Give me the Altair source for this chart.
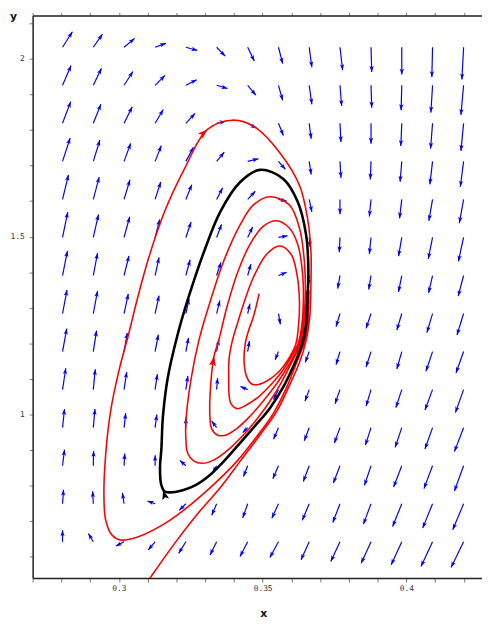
import math
import altair as alt
import pandas as pd

# ---------------- axes ----------------
X_MIN, X_MAX = 0.27, 0.4263
Y_MIN, Y_MAX = 0.5402, 2.1219
PLOT_W, PLOT_H = 456, 571
X_TICKS = [round(0.27 + 0.01 * i, 2) for i in range(16)]
Y_TICKS = [round(0.6 + 0.1 * i, 1) for i in range(16)]

# ---------------- direction field (grid of arrow tails) ----------------
FIELD_X = [0.2804, 0.2911, 0.3018, 0.3126, 0.3233, 0.3340, 0.3448,
           0.3555, 0.3662, 0.3769, 0.3877, 0.3984, 0.4091, 0.4199]
FIELD_Y = [2.0324, 1.9255, 1.8186, 1.7116, 1.6047, 1.4978, 1.3908,
           1.2839, 1.1770, 1.0700, 0.9631, 0.8562, 0.7492, 0.6423]
# arrow components as drawn (horizontal, vertical-up), rows top->bottom
FIELD_U = [
    [10, 9.3, 10.7, 11, 11.7, 8.7, 6.7, 4.3, 2.7, 2.7, 0.7, 0, -0.7, -1.7],
    [8.7, 8.3, 9, 10, 11, 11, 8.3, 4.3, 2.7, 1.7, 0.7, -0.7, -1.7, -2.7],
    [8.3, 7.7, 8.3, 8.3, 9.3, 9, 9, 5, 2, 1, 0, -1, -2, -2.7],
    [7.7, 6.7, 6.7, 6.3, 7.7, 7.7, 11, 7, 2, 1, -0.7, -1.7, -2.7, -3.3],
    [6, 6, 6, 5.7, 6, 6, 7.7, 8.3, 2.7, 0, -1.7, -2.3, -3.7, -4.3],
    [5.3, 5.3, 5.7, 4.7, 5.3, 5, 5, 9.3, 1, -0.7, -1.7, -3.3, -4.3, -5.3],
    [5, 4.3, 5, 4, 4.3, 4.3, 3.3, 8.3, -1, -2.3, -2.3, -3.3, -4, -5.5],
    [4.5, 4.3, 4.3, 4, 3.3, 3.3, 2.3, 2, -2.7, -4, -5, -5, -5.7, -6.7],
    [4.3, 3.3, 3.3, 3.3, 2.7, 2.3, 1.7, -3.3, -4, -4, -5, -5, -6.7, -7.7],
    [3.3, 2, 2.7, 2.3, 2, 1, -7.3, -5, -4.3, -5, -5, -6, -7.7, -8.3],
    [2, 1.7, 1.7, 1.7, 0, -5, -5, -5, -5, -5.7, -5.7, -6.7, -7.7, -9.3],
    [2, 0.3, 0.7, 0, -6, -4, -4.3, -5.7, -6, -6.7, -6.7, -8.3, -8.7, -9.3],
    [1, -0.7, -1.7, -7.7, -6.7, -5, -5, -6.7, -7, -7.3, -7.7, -9.3, -10, -11],
    [0, -5, -8.3, -7, -7.3, -6.7, -7.7, -8.7, -8.3, -9.3, -10, -10.7, -11.7, -12.7],
]
FIELD_V = [
    [15.7, 13.3, 9, 4, -3.3, -9, -14, -16.7, -20.3, -23.3, -25, -27.7, -30.3, -32.7],
    [20, 17.3, 14, 10, 5.7, -3.3, -10, -15.3, -19.3, -21, -22.7, -25.3, -27.7, -30],
    [22, 19.3, 16.7, 14, 10, 2, -5, -12.3, -15.7, -19, -20.7, -23, -25.7, -28],
    [23.7, 21.7, 18.3, 16, 14.3, 9.3, 2.7, -8, -13.3, -16.7, -18.3, -20.7, -23.3, -25.7],
    [25, 22.7, 20, 17.7, 15, 11.7, 8.3, -1.7, -12.7, -15, -17.3, -19.3, -21.7, -24],
    [25.7, 23.3, 21, 18.3, 15.7, 13.3, 10.7, 1.7, -10, -15, -16.7, -19, -21.7, -24.3],
    [25, 22.7, 20, 18.3, 16, 13.3, 11.7, 3.3, -10, -13.3, -14.3, -16.7, -17.7, -21],
    [24, 23, 20, 18.3, 15, 13.3, 10, -11, -11.7, -13.3, -15, -16.7, -19.3, -21.7],
    [23.3, 21.3, 19, 17.3, 14, 12.3, 10.7, -8.3, -11, -13.3, -15.7, -17.7, -20, -21.7],
    [21.7, 20.7, 18, 15.7, 14, 11.7, 3.3, -10, -11.7, -14.3, -16.7, -18.3, -20.7, -23.3],
    [19, 19, 14.7, 13.3, 10, 6.7, -5, -11.7, -13.3, -15.7, -17.7, -20, -21.7, -24.3],
    [16.3, 15, 12.3, 10.7, 5.3, -6.7, -11, -13.3, -16, -17.7, -20, -21.7, -23.3, -25.7],
    [14.3, 12.7, 11, 2.7, -6.7, -11.7, -14.3, -14.7, -16.7, -19, -20.7, -23, -24.7, -26.3],
    [11.7, 8.3, -4.3, -8.3, -11.7, -13.3, -15, -16, -18.3, -20, -21.7, -23.3, -25, -26],
]

# ---------------- trajectories ----------------
T1_X = [0.3661, 0.3659, 0.3654, 0.3642, 0.3620, 0.3584, 0.3538, 0.3479, 0.3411, 0.3331,
        0.3239, 0.3159, 0.3068, 0.3005, 0.2976, 0.2954, 0.2948, 0.2954, 0.2971, 0.2999,
        0.3035, 0.3063, 0.3104, 0.3159, 0.3228, 0.3308, 0.3394, 0.3468, 0.3559, 0.3628,
        0.3656, 0.3668, 0.3668, 0.3664, 0.3652, 0.3628, 0.3593, 0.3548, 0.3491, 0.3422,
        0.3353, 0.3274, 0.3194, 0.3113, 0.3085]
T1_Y = [1.3490, 1.2936, 1.2382, 1.1967, 1.1496, 1.0776, 1.0042, 0.9377, 0.8690, 0.8042,
        0.7396, 0.6933, 0.6565, 0.6474, 0.6612, 0.7036, 0.7765, 0.8873, 1.0083, 1.1191,
        1.2299, 1.3213, 1.4413, 1.5706, 1.6906, 1.8014, 1.8274, 1.8108, 1.7368, 1.6446,
        1.5521, 1.4598, 1.3676, 1.2751, 1.2105, 1.1460, 1.0812, 1.0075, 0.9427, 0.8690,
        0.7950, 0.7211, 0.6379, 0.5457, 0.5125]

T2_X = [0.3652, 0.3649, 0.3644, 0.3632, 0.3603, 0.3568, 0.3524, 0.3479, 0.3445, 0.3387,
        0.3331, 0.3291, 0.3260, 0.3239, 0.3233, 0.3233, 0.3251, 0.3279, 0.3319, 0.3365,
        0.3422, 0.3468, 0.3525, 0.3593, 0.3628, 0.3645, 0.3648, 0.3640, 0.3627, 0.3610,
        0.3586, 0.3548, 0.3503, 0.3455, 0.3411, 0.3370, 0.3342, 0.3322, 0.3317, 0.3317,
        0.3331, 0.3348, 0.3376, 0.3411, 0.3456, 0.3502, 0.3548, 0.3593, 0.3622, 0.3639,
        0.3641, 0.3634, 0.3622, 0.3599, 0.3568, 0.3531, 0.3486, 0.3445, 0.3411, 0.3390,
        0.3383, 0.3382, 0.3383, 0.3394, 0.3414, 0.3438, 0.3468, 0.3514, 0.3559, 0.3599,
        0.3619, 0.3628, 0.3625, 0.3615, 0.3589, 0.3558, 0.3520, 0.3486, 0.3462, 0.3445,
        0.3436, 0.3439, 0.3452, 0.3468, 0.3488]
T2_Y = [1.3490, 1.2936, 1.2521, 1.1967, 1.1496, 1.0942, 1.0360, 0.9862, 0.9529, 0.9058,
        0.8726, 0.8629, 0.8698, 0.8920, 0.9335, 0.9798, 1.0997, 1.2105, 1.3213, 1.4321,
        1.5338, 1.5892, 1.6122, 1.5892, 1.5244, 1.4321, 1.3213, 1.2521, 1.1967, 1.1662,
        1.1330, 1.0859, 1.0388, 0.9945, 0.9612, 0.9418, 0.9427, 0.9612, 0.9889, 1.0526,
        1.1643, 1.2105, 1.3028, 1.3953, 1.4784, 1.5291, 1.5449, 1.5244, 1.4784, 1.3953,
        1.3028, 1.2382, 1.1967, 1.1607, 1.1219, 1.0859, 1.0499, 1.0277, 1.0166, 1.0305,
        1.0582, 1.0997, 1.1551, 1.2050, 1.2604, 1.3213, 1.3859, 1.4507, 1.4737, 1.4507,
        1.3953, 1.3213, 1.2521, 1.1967, 1.1551, 1.1219, 1.0970, 1.0845, 1.0859, 1.1053,
        1.1413, 1.1967, 1.2382, 1.2751, 1.3399]

LC_X = [0.3157, 0.3147, 0.3143, 0.3148, 0.3153, 0.3170, 0.3204, 0.3239, 0.3297, 0.3353,
        0.3422, 0.3491, 0.3571, 0.3622, 0.3651, 0.3659, 0.3656, 0.3651, 0.3637, 0.3610,
        0.3572, 0.3524, 0.3472, 0.3421, 0.3363, 0.3318, 0.3267, 0.3219, 0.3178, 0.3157]
LC_Y = [0.7839, 0.8033, 0.8504, 0.9058, 0.9925, 1.1033, 1.2235, 1.3213, 1.4598, 1.5706,
        1.6537, 1.6878, 1.6629, 1.5983, 1.5061, 1.4136, 1.3213, 1.2521, 1.1967, 1.1413,
        1.0776, 1.0166, 0.9668, 0.9197, 0.8670, 0.8310, 0.8019, 0.7867, 0.7812, 0.7839]

# initial points of the trajectories (direction of travel, degrees clockwise from up)
START_X = [0.3308, 0.3331, 0.3154]
START_Y = [1.8014, 1.1643, 0.7881]
START_DIR = [48, 9, 345]
START_KIND = ["red", "red", "black"]

# ---------------- build tables ----------------
kx = (X_MAX - X_MIN) / PLOT_W
ky = (Y_MAX - Y_MIN) / PLOT_H
rows = []
for r, yv in enumerate(FIELD_Y):
    for c, xv in enumerate(FIELD_X):
        u, v = FIELD_U[r][c], FIELD_V[r][c]
        rows.append({
            "x": xv, "y": yv,
            "x2": xv + u * kx, "y2": yv + v * ky,
            "angle": math.degrees(math.atan2(u, v)) % 360,
        })
field = pd.DataFrame(rows)

curves = []
for name, xs_, ys_ in [("T1", T1_X, T1_Y), ("T2", T2_X, T2_Y)]:
    for i, (a, b) in enumerate(zip(xs_, ys_)):
        curves.append({"curve": name, "i": i, "x": a, "y": b})
red = pd.DataFrame(curves)
cycle = pd.DataFrame({"i": list(range(len(LC_X))), "x": LC_X, "y": LC_Y})
starts = pd.DataFrame({"x": START_X, "y": START_Y, "angle": START_DIR, "kind": START_KIND})

xs = alt.Scale(domain=[X_MIN, X_MAX], nice=False, zero=False)
ys = alt.Scale(domain=[Y_MIN, Y_MAX], nice=False, zero=False)

HEAD = "M0,0L0.36,1L0,0.78L-0.36,1Z"
FRAME = "#222"

x_bottom = alt.Axis(
    orient="bottom", values=X_TICKS, format=".2~f",
    labelExpr="indexof(['0.3','0.35','0.4'], datum.label) >= 0 ? datum.label : ''",
    grid=False, domainColor=FRAME, domainWidth=1.5, tickColor="#777", tickSize=4,
    tickWidth=1, labelFont="DejaVu Sans Mono", labelFontSize=8, labelColor="#333",
    labelPadding=3, labelOverlap=False, labelFlush=False,
    title="x", titleFont="DejaVu Sans", titleFontWeight="bold", titleFontSize=11,
    titleColor="#111", titleX=234, titleY=36, titleAlign="center", titleBaseline="middle",
)
x_top = alt.Axis(
    orient="top", values=X_TICKS, labels=False, grid=False, domainColor=FRAME,
    domainWidth=1.5, tickColor="#777", tickSize=3, tickWidth=1, title="",
)
y_left = alt.Axis(
    orient="left", values=Y_TICKS, format=".1~f",
    labelExpr="indexof(['1','1.5','2'], datum.label) >= 0 ? datum.label : ''",
    grid=False, domainColor=FRAME, domainWidth=1.5, tickColor="#777", tickSize=3.5,
    tickWidth=1, labelFont="DejaVu Sans Mono", labelFontSize=8, labelColor="#333",
    labelPadding=5, labelOverlap=False, labelFlush=False,
    title="y", titleFont="DejaVu Sans", titleFontWeight="bold", titleFontSize=11,
    titleColor="#111", titleAngle=0, titleX=-20, titleY=1, titleAlign="center",
    titleBaseline="middle",
)

shafts = alt.Chart(field).mark_rule(color="#0000ff", strokeWidth=1.2).encode(
    x=alt.X("x:Q", scale=xs, axis=x_bottom),
    y=alt.Y("y:Q", scale=ys, axis=y_left),
    x2="x2:Q", y2="y2:Q",
)
heads = alt.Chart(field).mark_point(
    shape=HEAD, filled=True, color="#0000ff", size=144, opacity=1, strokeWidth=0
).encode(
    x=alt.X("x2:Q", scale=xs, axis=x_top),
    y=alt.Y("y2:Q", scale=ys, axis=None),
    angle=alt.Angle("angle:Q", scale=None),
)
red_lines = alt.Chart(red).mark_line(
    color="#ff0000", strokeWidth=1.6, interpolate="catmull-rom", clip=True
).encode(
    x=alt.X("x:Q", scale=xs, axis=None),
    y=alt.Y("y:Q", scale=ys, axis=None),
    detail="curve:N", order="i:Q",
)
black_line = alt.Chart(cycle).mark_line(
    color="#000000", strokeWidth=2.6, interpolate="catmull-rom", clip=True
).encode(
    x=alt.X("x:Q", scale=xs, axis=None),
    y=alt.Y("y:Q", scale=ys, axis=None),
    order="i:Q",
)
start_marks = alt.Chart(starts).mark_point(
    shape=HEAD, filled=True, size=400, opacity=1, strokeWidth=0
).encode(
    x=alt.X("x:Q", scale=xs, axis=None),
    y=alt.Y("y:Q", scale=ys, axis=None),
    angle=alt.Angle("angle:Q", scale=None),
    color=alt.Color("kind:N", scale=alt.Scale(domain=["red", "black"], range=["#ff0000", "#000000"]), legend=None),
)

chart = alt.layer(shafts, heads, red_lines, black_line, start_marks).resolve_axis(
    x="independent", y="independent"
).properties(
    width=PLOT_W, height=PLOT_H,
    autosize=alt.AutoSizeParams(type="none"),
    padding={"left": 25, "top": 3, "right": 0, "bottom": 40},
).configure_view(stroke=None)

chart.save("out.html", embed_options={"renderer": "svg", "actions": False})
